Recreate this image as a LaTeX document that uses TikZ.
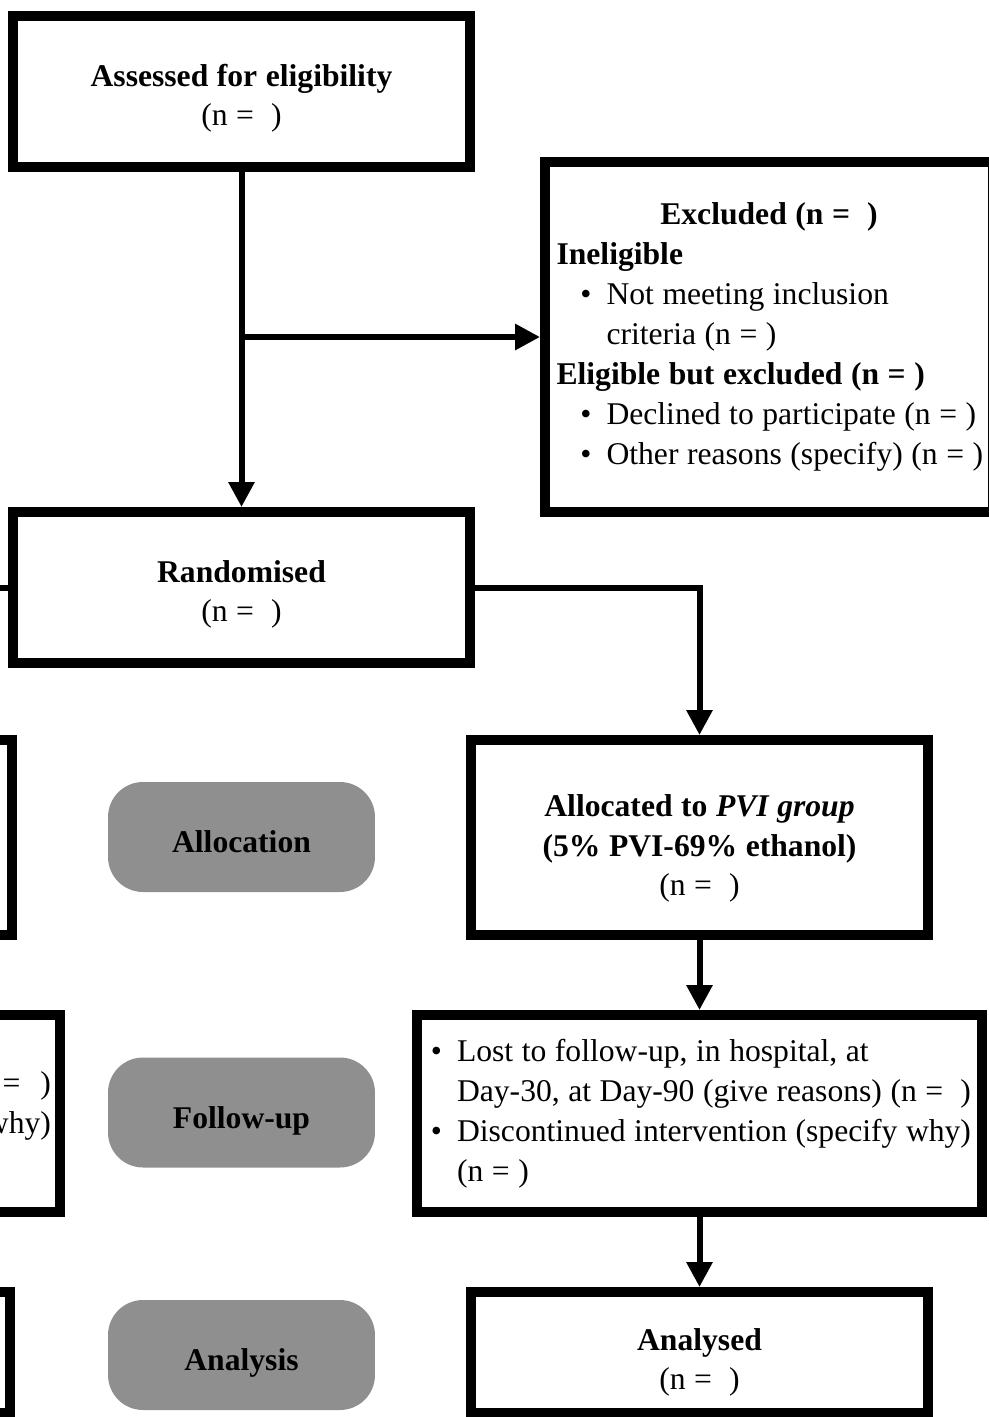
\documentclass[tikz,border=0pt]{standalone}
\usepackage{fontspec}
\setmainfont{Liberation Serif}
\usetikzlibrary{arrows.meta}

\definecolor{stagegray}{RGB}{143,143,143}
\newcommand{\bul}[1]{\makebox[#1][r]{\textbullet\hspace{0.3cm}}}
\newcommand{\lift}[1]{\rule{0pt}{#1}}
\newcommand{\tightspace}{\spaceskip=0.27em plus 0.05em\relax}

\begin{document}
\begin{tikzpicture}[x=0.02cm, y=-0.02cm,
    box/.style={draw, line width=0.2cm, inner sep=0pt, align=center,
                font=\fontsize{18}{22.7}\selectfont, execute at begin node=\tightspace},
    stage/.style={fill=stagegray, rounded corners=0.7cm, minimum width=5.34cm,
                  minimum height=2.2cm, text height=18pt, text depth=0pt,
                  font=\fontsize{18}{22.7}\selectfont\bfseries},
    link/.style={line width=0.12cm},
    arr/.style={link, -{Triangle[length=0.5cm, width=0.5cm]}}]

    \useasboundingbox (0,0) rectangle (989,1417);
    \clip (0,0) rectangle (989,1417);

    % 1. ENROLMENT
    \node[box, minimum width=9.14cm, minimum height=3.01cm] (assess) at (241.5,91.5)
        {\lift{20.3pt}\textbf{Assessed for eligibility}\\(n =~~)};

    \node[box, minimum width=8.96cm, minimum height=7cm, text width=8.5cm, align=left] (excl) at (769,337)
        {\makebox[\linewidth]{\textbf{Excluded (n =~~)}}\\
         \textbf{Ineligible}\\
         \mbox{\bul{1cm}Not meeting inclusion}\\
         \mbox{\hspace*{1cm}criteria (n = )}\\
         \mbox{\textbf{Eligible but excluded (n = )}}\\
         \mbox{\bul{1cm}Declined to participate (n = )}\\
         \mbox{\bul{1cm}Other reasons (specify) (n = )}};

    \node[box, minimum width=9.14cm, minimum height=3.02cm] (rand) at (241.5,587.5)
        {\lift{20.3pt}\textbf{Randomised}\\(n =~~)};

    % 2. ALLOCATION
    \node[box, minimum width=9.14cm, minimum height=3.9cm] (allocL) at (-216.5,837.5) {};
    \node[stage] (stageA) at (241.5,837) {Allocation};
    \node[box, minimum width=9.14cm, minimum height=3.9cm] (alloc) at (699.5,837.5)
        {\lift{24.9pt}\textbf{Allocated to \textit{PVI group}}\\\textbf{(5\% PVI-69\% ethanol)}\\(n =~~)};

    % 3. FOLLOW-UP
    \node[box, minimum width=11.3cm, minimum height=3.94cm, text width=10.94cm, align=right] (fuL) at (-222.5,1113.5)
        {\mbox{}\\\mbox{=\hspace{0.4cm})}\\\mbox{why)}\\\mbox{}};
    \node[stage] (stageF) at (241.5,1112.5) {Follow-up};
    \node[box, minimum width=11.3cm, minimum height=3.94cm, text width=10.66cm, align=left] (fuR) at (699.5,1113.5)
        {\mbox{\bul{0.48cm}Lost to follow-up, in hospital, at}\\
         \mbox{\hspace*{0.48cm}Day-30, at Day-90 (give reasons) (n =~~)}\\
         \mbox{\bul{0.48cm}Discontinued intervention (specify why)}\\
         \mbox{\hspace*{0.48cm}(n = )}};

    % 4. ANALYSIS
    \node[box, minimum width=9.14cm, minimum height=2.42cm] (analL) at (-218.5,1352.5) {};
    \node[stage] (stageN) at (241.5,1355) {Analysis};
    \node[box, minimum width=9.14cm, minimum height=2.42cm] (anal) at (699.5,1352.5)
        {\lift{23.7pt}\textbf{Analysed}\\(n =~~)};

    % CONNECTORS
    \draw[arr] (assess.south) -- (rand.north);
    \draw[arr] (assess.south |- excl.west) -- (excl.west);
    \draw[arr] (rand.east) -| (alloc.north);
    \draw[arr] (rand.west) -| (allocL.north);
    \draw[arr] (alloc.south) -- (fuR.north);
    \draw[arr] (fuR.south) -- (anal.north);

\end{tikzpicture}
\end{document}
